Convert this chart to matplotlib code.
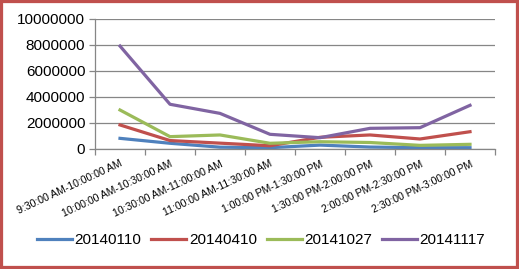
import matplotlib.pyplot as plt
from matplotlib.patches import Rectangle

# kategorie (przedziały czasowe) i serie
categories = [
    "9:30:00 AM-10:00:00 AM", "10:00:00 AM-10:30:00 AM", "10:30:00 AM-11:00:00 AM",
    "11:00:00 AM-11:30:00 AM", "1:00:00 PM-1:30:00 PM", "1:30:00 PM-2:00:00 PM",
    "2:00:00 PM-2:30:00 PM", "2:30:00 PM-3:00:00 PM",
]
s_20140110 = [820000, 440000, 140000, 100000, 300000, 150000, 100000, 100000]
s_20140410 = [1850000, 650000, 450000, 250000, 900000, 1080000, 770000, 1330000]
s_20141027 = [3000000, 950000, 1080000, 440000, 560000, 500000, 280000, 360000]
s_20141117 = [7920000, 3440000, 2740000, 1130000, 870000, 1590000, 1640000, 3360000]
series_names = ["20140110", "20140410", "20141027", "20141117"]
y_ticks = [0, 2000000, 4000000, 6000000, 8000000, 10000000]

colors = ["#4F81BD", "#C0504D", "#9BBB59", "#8064A2"]
plt.rcParams['font.family'] = ['Liberation Sans', 'DejaVu Sans']

fig = plt.figure(figsize=(5.19, 2.69), dpi=100)
ax = fig.add_axes([95 / 519, 1 - 149 / 269, 400 / 519, 130 / 269])

x = list(range(len(categories)))
for name, vals, c in zip(series_names, [s_20140110, s_20140410, s_20141027, s_20141117], colors):
    ax.plot(x, vals, color=c, lw=2.3, label=name, solid_joinstyle='round')

ax.set_xlim(-0.5, len(categories) - 0.5)
ax.set_ylim(0, 10000000)
ax.set_yticks(y_ticks)
ax.set_yticklabels([str(v) for v in y_ticks], fontsize=11)
ax.yaxis.grid(True, color="#868686", lw=0.9)
ax.set_axisbelow(True)

ax.set_xticks(x)
ax.set_xticklabels(categories, fontsize=7.6, rotation=25, ha='right', va='top',
                   rotation_mode='anchor')
ax.set_xticks([i - 0.5 for i in range(len(categories) + 1)], minor=True)
ax.tick_params(axis='x', which='major', length=0, pad=7)
ax.tick_params(axis='x', which='minor', length=4, color="#868686", width=0.9)
ax.tick_params(axis='y', length=4, color="#868686", width=0.9, pad=3)

for s in ['top', 'right']:
    ax.spines[s].set_visible(False)
for s in ['left', 'bottom']:
    ax.spines[s].set_color("#868686")
    ax.spines[s].set_linewidth(0.9)

fig.legend(loc='center', bbox_to_anchor=(0.503, 1 - 240 / 269), ncol=4, frameon=False,
           fontsize=11, handlelength=2.3, handletextpad=0.15, columnspacing=0.65)

# czerwona ramka
fig.patches.append(Rectangle((0, 0), 1, 1, transform=fig.transFigure, fill=False,
                             edgecolor="#C0504D", lw=4.5))

fig.savefig("out.png", dpi=100)
